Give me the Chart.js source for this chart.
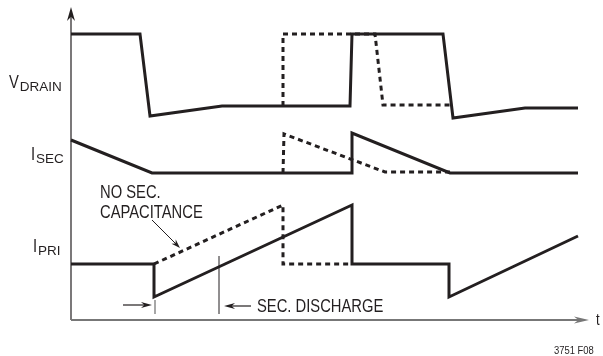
<!DOCTYPE html>
<html>
<head>
<meta charset="utf-8">
<script src="https://cdn.jsdelivr.net/npm/chart.js@4.4.1/dist/chart.umd.min.js"></script>
<style>
  html, body { margin: 0; padding: 0; background: #fff; }
  #wrap { width: 603px; height: 356px; position: relative; }
</style>
</head>
<body>
<div id="wrap"><canvas id="myChart"></canvas></div>
<script>
// DATA (time, level) - solid = actual, dashed = no secondary capacitance
const vdrainT = [0, 69, 79, 151, 279, 281, 372, 382, 454, 507];
const vdrainV = [286, 286, 204, 214, 214, 286, 286, 202, 212, 212];
const vdrainNoCapT = [212, 212, 304, 312, 379];
const vdrainNoCapV = [214, 286, 286, 215, 215];

const isecT = [0, 81, 281, 281, 379, 507];
const isecV = [180, 147, 147, 187, 147, 147];
const isecNoCapT = [212, 213, 314, 379];
const isecNoCapV = [147, 186, 148, 148];

const ipriT = [0, 83, 83, 281, 281, 378, 378, 507];
const ipriV = [56, 56, 23, 115, 56, 56, 23, 84];
const ipriNoCapT = [83, 212, 212, 281];
const ipriNoCapV = [56, 115, 56, 56];

// trace labels: [main, subscript, x, baseline]
const traceLabels = [
    ["V", "DRAIN", -62, 232],
    ["I", "SEC", -40, 160],
    ["I", "PRI", -38, 68],
];

const ink = "#231f20";

function pts(t, v) {
    return t.map((x, i) => ({ x: x, y: v[i] }));
}

function trace(t, v, dashed) {
    return {
        data: pts(t, v),
        showLine: true,
        borderColor: ink,
        borderWidth: 3,
        borderDash: dashed ? [5, 4] : [],
        borderJoinStyle: "miter",
        borderCapStyle: "butt",
        pointRadius: 0,
        tension: 0,
        clip: false,
    };
}

const data = {
    datasets: [
        trace(vdrainT, vdrainV, false),
        trace(vdrainNoCapT, vdrainNoCapV, true),
        trace(isecT, isecV, false),
        trace(isecNoCapT, isecNoCapV, true),
        trace(ipriT, ipriV, false),
        trace(ipriNoCapT, ipriNoCapV, true),
    ],
};

// DRAWING HELPERS
function arrow(ctx, x1, y1, x2, y2, len, half, color, width) {
    const a = Math.atan2(y2 - y1, x2 - x1);
    ctx.strokeStyle = color;
    ctx.fillStyle = color;
    ctx.lineWidth = width;
    ctx.beginPath();
    ctx.moveTo(x1, y1);
    ctx.lineTo(x2 - Math.cos(a) * len * 0.6, y2 - Math.sin(a) * len * 0.6);
    ctx.stroke();
    ctx.beginPath();
    ctx.moveTo(x2, y2);
    ctx.lineTo(x2 - Math.cos(a) * len - Math.sin(a) * half, y2 - Math.sin(a) * len + Math.cos(a) * half);
    ctx.lineTo(x2 - Math.cos(a) * len * 0.7, y2 - Math.sin(a) * len * 0.7);
    ctx.lineTo(x2 - Math.cos(a) * len + Math.sin(a) * half, y2 - Math.sin(a) * len - Math.cos(a) * half);
    ctx.closePath();
    ctx.fill();
}

function line(ctx, x1, y1, x2, y2, color, width) {
    ctx.strokeStyle = color;
    ctx.lineWidth = width;
    ctx.beginPath();
    ctx.moveTo(x1, y1);
    ctx.lineTo(x2, y2);
    ctx.stroke();
}

// condensed text: regular face squeezed horizontally
const squeeze = 0.82;
function narrowText(ctx, text, x, y, font) {
    ctx.save();
    ctx.font = font;
    ctx.translate(x, y);
    ctx.scale(squeeze, 1);
    ctx.fillText(text, 0, 0);
    const w = ctx.measureText(text).width * squeeze;
    ctx.restore();
    return w;
}

const bigFont = "18px 'Liberation Sans', Arial, sans-serif";
const subFont = "13.5px 'Liberation Sans', Arial, sans-serif";

const diagram = {
    id: "diagram",
    beforeDatasetsDraw(chart) {
        const ctx = chart.ctx;
        const X = (v) => chart.scales.x.getPixelForValue(v);
        const Y = (v) => chart.scales.y.getPixelForValue(v);
        ctx.save();
        // axes
        arrow(ctx, X(0), Y(0), X(0), Y(313), 14, 4, ink, 1.2);
        arrow(ctx, X(0), Y(0), X(518), Y(0), 15, 3.5, "#777777", 2);
        ctx.restore();
    },
    afterDatasetsDraw(chart) {
        const ctx = chart.ctx;
        const X = (v) => chart.scales.x.getPixelForValue(v);
        const Y = (v) => chart.scales.y.getPixelForValue(v);
        ctx.save();

        // annotations
        arrow(ctx, X(81), Y(100), X(109), Y(72), 9, 3, ink, 1);
        arrow(ctx, X(52), Y(15), X(81), Y(15), 11, 3, ink, 1.2);
        line(ctx, X(84), Y(6), X(84), Y(20), "#8a8a8a", 1.5);
        line(ctx, X(148), Y(6), X(148), Y(64), ink, 1);
        arrow(ctx, X(180), Y(14), X(153), Y(14), 11, 3, ink, 1.2);

        ctx.fillStyle = ink;
        ctx.textBaseline = "alphabetic";
        ctx.textAlign = "left";

        traceLabels.forEach(([main, sub, x, y]) => {
            const w = narrowText(ctx, main, X(x), Y(y), bigFont);
            ctx.font = subFont;
            ctx.fillText(sub, X(x) + w + 1, Y(y) + 3);
        });

        narrowText(ctx, "NO SEC.", X(29), Y(122), bigFont);
        narrowText(ctx, "CAPACITANCE", X(29), Y(102), bigFont);
        narrowText(ctx, "SEC. DISCHARGE", X(186), Y(8), bigFont);
        narrowText(ctx, "t", X(525), Y(-5), "16px 'Liberation Sans', Arial, sans-serif");
        narrowText(ctx, "3751 F08", X(483), Y(-34), "11.5px 'Liberation Sans', Arial, sans-serif");

        ctx.restore();
    },
};

// CONFIG
const config = {
    type: "scatter",
    data: data,
    options: {
        responsive: true,
        maintainAspectRatio: false,
        animation: false,
        events: [],
        layout: { padding: 0 },
        scales: {
            x: { type: "linear", min: -71, max: 532, display: false },
            y: { type: "linear", min: -36, max: 320, display: false },
        },
        plugins: {
            legend: { display: false },
            tooltip: { enabled: false },
        },
    },
    plugins: [diagram],
};

const myChart = new Chart(document.getElementById("myChart"), config);
</script>
</body>
</html>
